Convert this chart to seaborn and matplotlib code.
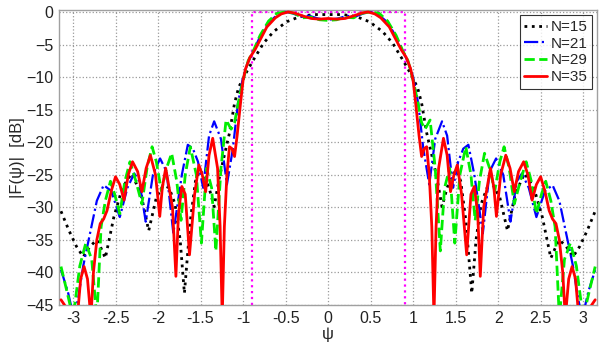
import numpy as np
import pandas as pd
import matplotlib
matplotlib.use("Agg")
import matplotlib.pyplot as plt
import seaborn as sns

# ---- data (right half, psi >= 0; pattern is symmetric) ----
black_psi = [0, 0.17, 0.33, 0.486, 0.64, 0.76, 0.88, 0.95, 1.0, 1.05, 1.10, 1.16, 1.22, 1.28, 1.34,
             1.40, 1.46, 1.514, 1.56, 1.62, 1.69, 1.74, 1.80, 1.87, 1.94, 2.02, 2.11, 2.20, 2.31,
             2.42, 2.52, 2.62, 2.68, 2.72, 2.80, 2.88, 2.96, 3.05, 3.1416]
black_db = [-0.4, -0.4, -0.7, -1.5, -3.0, -4.8, -7.4, -9.0, -10.3, -11.5, -14, -18.6, -22, -25.5, -29.9,
            -27, -25, -24.3, -26, -32, -43.2, -35, -29.5, -27, -26.6, -28.5, -33.6, -28, -24.8,
            -27, -31.5, -37.8, -36, -35, -36, -37.6, -36, -33.5, -30.6]

blue_psi = [0, 0.12, 0.22, 0.32, 0.42, 0.5, 0.6, 0.7, 0.8, 0.88, 0.95, 1.0, 1.06, 1.12, 1.19, 1.26,
            1.34, 1.40, 1.47, 1.53, 1.59, 1.65, 1.72, 1.82, 1.90, 1.976, 2.06, 2.145, 2.22, 2.28,
            2.36, 2.45, 2.55, 2.64, 2.72, 2.80, 2.88, 2.94, 2.99, 3.06, 3.1416]
blue_db = [-1.2, -1.0, -0.6, -0.7, -0.2, 0, -0.5, -1.6, -3.8, -6.0, -8.0, -10.0, -14, -21, -26.5, -19.5,
           -16.8, -19, -27, -23, -21, -20.4, -25, -34.0, -24.5, -22.5, -25, -32.2, -26, -24.8,
           -27, -31.5, -27.5, -26.6, -29, -34, -39, -44, -47, -43, -39.6]

green_psi = [0, 0.1, 0.2, 0.3, 0.4, 0.5, 0.6, 0.7, 0.8, 0.88, 0.94, 1.0, 1.05, 1.10, 1.14, 1.20, 1.26,
             1.32, 1.37, 1.43, 1.49, 1.55, 1.62, 1.68, 1.73, 1.78, 1.84, 1.90, 1.96, 2.02, 2.07,
             2.13, 2.19, 2.26, 2.33, 2.39, 2.45, 2.51, 2.56, 2.62, 2.67, 2.72, 2.78, 2.85, 2.92,
             3.0, 3.07, 3.1416]
green_db = [-1.3, -1.2, -0.8, -0.9, -0.2, 0, -0.2, -1.4, -3.6, -6.0, -7.5, -10.5, -13.5, -17, -18, -16.6, -24,
            -36.7, -27, -24, -35.5, -25, -20.7, -25, -32, -26, -21.7, -24, -27.5, -23, -20.7,
            -24, -29.5, -26, -23, -26, -31, -28, -26, -29, -33, -47, -38, -35.5, -39,
            -47, -43, -39.1]

red_psi = [0, 0.1, 0.2, 0.3, 0.4, 0.47, 0.55, 0.62, 0.72, 0.8, 0.86, 0.92, 0.97, 1.0, 1.03, 1.07, 1.10,
           1.13, 1.16, 1.19, 1.22, 1.245, 1.27, 1.30, 1.357, 1.40, 1.44, 1.48, 1.52, 1.57, 1.63,
           1.68, 1.72, 1.76, 1.79, 1.83, 1.91, 1.95, 1.98, 2.03, 2.09, 2.14, 2.19, 2.24, 2.30,
           2.35, 2.40, 2.45, 2.50, 2.55, 2.60, 2.64, 2.68, 2.72, 2.76, 2.79, 2.83, 2.87, 2.91,
           2.95, 3.0, 3.05, 3.10, 3.1416]
red_db = [-1.0, -1.1, -1.0, -0.6, -0.15, 0, -0.3, -0.9, -2.3, -4.3, -5.8, -7.0, -8.7, -10.5, -14, -19, -22.2,
          -21.0, -20.7, -25, -33, -47, -33, -24, -19.4, -22, -27.6, -25, -23.5, -28, -37.3,
          -28, -26.8, -31, -40.6, -30, -24.0, -27, -31.4, -25, -22.0, -24, -27.6, -24.5, -23.0,
          -25, -28.9, -26.5, -25.3, -27.5, -30.5, -31.8, -32.5, -35, -40, -47, -41, -39.1, -41,
          -47, -48, -47, -45, -44.2]

labels = ["N=15", "N=21", "N=29", "N=35"]
mask_edge = 0.9
mask_level = 0.0

xticks = [-3, -2.5, -2, -1.5, -1, -0.5, 0, 0.5, 1, 1.5, 2, 2.5, 3]
xticklabels = ["-3", "-2.5", "-2", "-1.5", "-1", "-0.5", "0", "0.5", "1", "1.5", "2", "2.5", "3"]
yticks = [0, -5, -10, -15, -20, -25, -30, -35, -40, -45]


def full_curve(psi, db):
    psi = np.asarray(psi, float)
    db = np.asarray(db, float)
    x = np.concatenate([-psi[::-1], psi[1:]])
    y = np.concatenate([db[::-1], db[1:]])
    return x, y


series = [(black_psi, black_db), (blue_psi, blue_db), (green_psi, green_db), (red_psi, red_db)]
frames = []
for lab, (p, d) in zip(labels, series):
    x, y = full_curve(p, d)
    frames.append(pd.DataFrame({"psi": x, "dB": y, "N": lab}))
df = pd.concat(frames, ignore_index=True)

sns.set_style("white")
plt.rcParams["font.family"] = ["Liberation Sans", "DejaVu Sans"]

fig = plt.figure(figsize=(6.02, 3.45), dpi=100)
ax = fig.add_axes([0.098, 0.116, 0.894, 0.855])

styles = {
    "N=15": dict(color="black", ls=":", lw=2.0),
    "N=21": dict(color="#0000ff", ls="-.", lw=1.6),
    "N=29": dict(color="#00ee00", ls="--", lw=2.0),
    "N=35": dict(color="#ff0000", ls="-", lw=2.0),
}

# mask
ax.plot([-mask_edge, -mask_edge, mask_edge, mask_edge], [-45, mask_level, mask_level, -45],
        color="#ff00ff", ls=":", lw=1.6, zorder=1)

for lab in labels:
    sub = df[df["N"] == lab]
    st = styles[lab]
    sns.lineplot(data=sub, x="psi", y="dB", ax=ax, estimator=None, sort=False,
                 color=st["color"], linestyle=st["ls"], linewidth=st["lw"], label=lab, zorder=3)

ax.set_xlim(-3.165, 3.165)
ax.set_ylim(-45, 0.3)
ax.set_xticks(xticks)
ax.set_xticklabels(xticklabels)
ax.set_yticks(yticks)
ax.tick_params(labelsize=11.5, length=0, pad=4, colors="#222222")
ax.grid(True, ls=":", color="#9a9a9a", lw=0.9)
for s in ax.spines.values():
    s.set_color("#a0a0a0")
    s.set_linewidth(1.0)
ax.set_xlabel("ψ", fontsize=12, labelpad=1)
ax.set_ylabel("|F(ψ)|  [dB]", fontsize=12, labelpad=1)

leg = ax.legend(loc="upper right", frameon=True, fancybox=False, fontsize=11,
                handlelength=1.5, handletextpad=0.2, borderpad=0.3, labelspacing=0.18,
                borderaxespad=0.35)
leg.get_frame().set_edgecolor("black")
leg.get_frame().set_linewidth(0.8)

fig.savefig("out.png", dpi=100)
